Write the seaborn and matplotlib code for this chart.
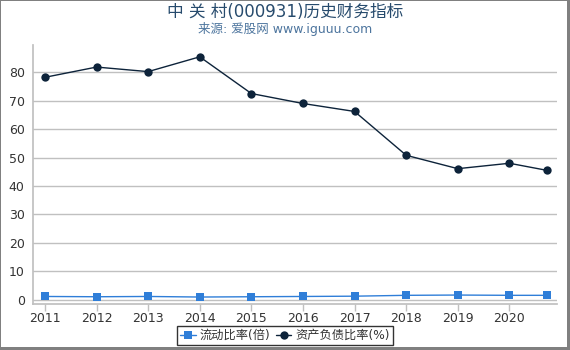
import matplotlib
matplotlib.use("Agg")
import matplotlib.pyplot as plt
import seaborn as sns
import pandas as pd
from matplotlib.patches import Rectangle

years = [2011, 2012, 2013, 2014, 2015, 2016, 2017, 2018, 2019, 2020, 2020.73]
tick_years = [2011, 2012, 2013, 2014, 2015, 2016, 2017, 2018, 2019, 2020]
current_ratio = [1.2, 1.1, 1.2, 1.0, 1.1, 1.2, 1.3, 1.6, 1.7, 1.6, 1.6]
debt_ratio = [78.2, 81.8, 80.2, 85.4, 72.5, 69.0, 66.2, 50.8, 46.1, 48.0, 45.5]
series_names = ["流动比率(倍)", "资产负债比率(%)"]
y_ticks = [0, 10, 20, 30, 40, 50, 60, 70, 80]

sns.set_theme(style="white")
plt.rcParams['font.family'] = ['DejaVu Sans', 'Noto Sans CJK SC']

df = pd.DataFrame({
    "year": years * 2,
    "value": current_ratio + debt_ratio,
    "series": [series_names[0]] * len(years) + [series_names[1]] * len(years),
})

W, H = 570, 350
fig = plt.figure(figsize=(W / 100, H / 100), dpi=100)
ax = fig.add_axes([0.058, 0.131, 0.919, 0.74])

palette = {series_names[0]: "#2f7ed8", series_names[1]: "#0d233a"}
sns.lineplot(data=df, x="year", y="value", hue="series", style="series",
             markers={series_names[0]: "s", series_names[1]: "o"},
             dashes=False, palette=palette, linewidth=1, markersize=6,
             markeredgewidth=0, ax=ax)

ax.set_xlim(2010.77, 2020.92)
ax.set_ylim(-1.5, 89.5)
ax.set_xticks(tick_years)
ax.set_xticklabels([str(y) for y in tick_years])
ax.set_yticks(y_ticks)
ax.set_xlabel("")
ax.set_ylabel("")
ax.yaxis.grid(True, color="#c0c0c0", linewidth=1)
ax.set_axisbelow(True)
for s in ["top", "right"]:
    ax.spines[s].set_visible(False)
ax.spines["left"].set_color("#c0c0c0")
ax.spines["bottom"].set_color("#c0c0c0")
ax.tick_params(axis="x", colors="#c0c0c0", labelcolor="#333333", labelsize=9,
               length=5, width=1, bottom=True, pad=1)
ax.tick_params(axis="y", colors="#c0c0c0", labelcolor="#333333", labelsize=9,
               length=0, pad=6)

handles, labels = ax.get_legend_handles_labels()
ax.get_legend().remove()
leg = fig.legend(handles, labels, loc="upper center",
                 bbox_to_anchor=(0.5, 1 - 326 / H), ncol=2, borderaxespad=0,
                 frameon=True, fontsize=8.8, handlelength=1.3, handletextpad=0.3,
                 columnspacing=0.4, borderpad=0.25, fancybox=False)
leg.get_frame().set_edgecolor("#000000")
leg.get_frame().set_linewidth(1)
for t in leg.get_texts():
    t.set_color("#333333")

fig.text(0.5, 0.965, "中 关 村(000931)历史财务指标", ha="center", va="center",
         fontsize=12, color="#274b6d")
fig.text(0.5, 0.918, "来源: 爱股网 www.iguuu.com", ha="center", va="center",
         fontsize=9, color="#4d759e")

border = "#808080"
def px_rect(x, y, w, h):
    fig.patches.append(Rectangle((x / W, y / H), w / W, h / H,
                                 transform=fig.transFigure, facecolor=border,
                                 edgecolor="none", zorder=10))
px_rect(0, 0, 1, H)          # left
px_rect(0, H - 1, W, 1)      # top
px_rect(W - 3, 0, 3, H)      # right
px_rect(0, 0, W, 3)          # bottom

fig.savefig("out.png", dpi=100)
